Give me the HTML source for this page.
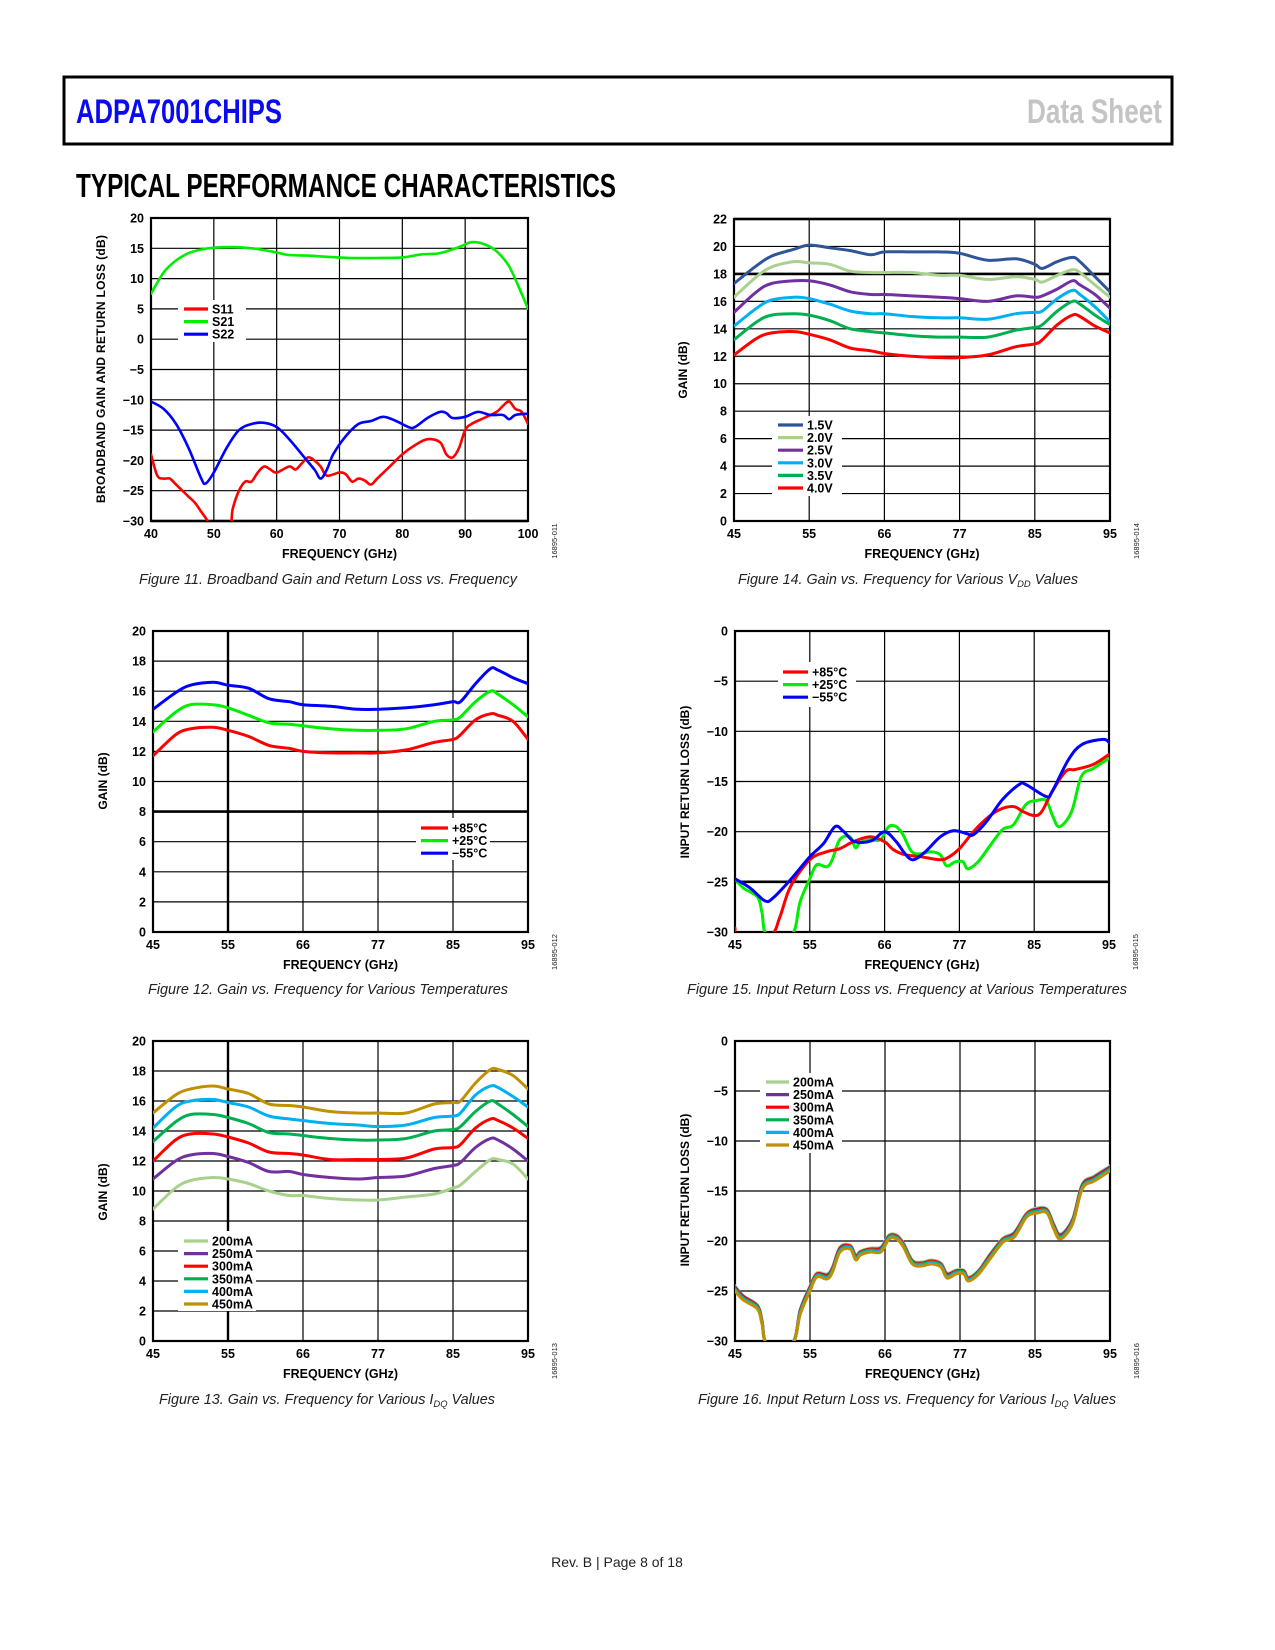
<!DOCTYPE html>
<html><head><meta charset="utf-8"><style>
html,body{margin:0;padding:0;background:#fff}
svg{display:block}
text{font-family:"Liberation Sans",Arial,sans-serif}
</style></head><body>
<svg id="page" xmlns="http://www.w3.org/2000/svg" width="1275" height="1650" viewBox="0 0 1275 1650">
<rect x="0" y="0" width="1275" height="1650" fill="#fff"/>
<rect x="64" y="77" width="1108" height="67" fill="none" stroke="#000" stroke-width="3"/>
<text x="76" y="123" font-size="34" font-weight="bold" fill="#0a0af0" textLength="206" lengthAdjust="spacingAndGlyphs">ADPA7001CHIPS</text>
<text x="1027" y="123" font-size="34" font-weight="bold" fill="#c4c4c4" textLength="135" lengthAdjust="spacingAndGlyphs">Data Sheet</text>
<text x="76" y="197" font-size="33" font-weight="bold" fill="#000" textLength="540" lengthAdjust="spacingAndGlyphs">TYPICAL PERFORMANCE CHARACTERISTICS</text>
<text x="617" y="1567" font-size="14" text-anchor="middle" fill="#222">Rev. B | Page 8 of 18</text>
</svg>
<script>
// ===== Figure 11 data =====
const f11X = [40,50,60,70,80,90,100];
const f11YTicks = [20,15,10,5,0,-5,-10,-15,-20,-25,-30];
const s21F = [40,42,44,46,48,50,53,56,58,60,62,65,68,72,76,80,83,86,89,91,93,95,97,99,100];
const s21V = [7.5,11,13,14.2,14.8,15.1,15.2,15,14.7,14.3,13.9,13.8,13.6,13.4,13.4,13.5,14,14.2,15.2,16,15.7,14.5,12,7.5,5];
const s22F = [40,42,44,46,48,48.7,50,52,54,56,58,60,62,64,66,67,68,69,71,73,75,77,79,81,82,84,86,87,88,90,92,94,96,97,98,100];
const s22V = [-10.3,-11.5,-14,-18,-23,-23.8,-22,-18,-15,-14,-13.8,-14.5,-16.5,-19,-21.5,-23,-21.5,-19,-16,-14,-13.5,-12.8,-13.5,-14.5,-14.5,-13,-12,-12.2,-13,-12.8,-12,-12.5,-12.5,-13.2,-12.5,-12.3];
const s11F = [40,41,42,43,44,45,46,47,48,49,49.4,52.4,53,54,55,56,57,58,59,60,62,63,64,65,66,67,68,70,71,72,73,74,75,76,78,80,82,84,86,87,88,89,90,91,93,95,96,97,98,99,100];
const s11V = [-19,-22.5,-23,-23,-24,-25,-26,-27,-28.5,-30,-31.5,-31.5,-28,-25,-23.5,-23.5,-22,-21,-21.5,-22,-21,-21.5,-20.5,-19.5,-20,-21,-22.5,-22,-22.3,-23.5,-23,-23.3,-24,-23,-21,-19,-17.5,-16.5,-17,-19,-19.5,-18,-15,-14,-13,-12,-11,-10.3,-11.5,-12,-14];

// ===== Figures 12-16 shared x axis =====
const bandTicks = [45,55,66,77,85,95];
const gF = [45,48,50,53,55,58,61,64,66,70,74,77,80,83,85,86,88,90,91,93,95];

// Figure 14 (VDD)
const f14YTicks = [22,20,18,16,14,12,10,8,6,4,2,0];
const v15 = [17.3,18.6,19.3,19.8,20.1,19.9,19.7,19.4,19.6,19.6,19.6,19.5,19.0,19.1,18.7,18.4,18.9,19.2,18.9,17.8,16.7];
const v20 = [16.3,17.8,18.5,18.9,18.8,18.7,18.2,18.1,18.1,18.1,17.9,17.9,17.6,17.8,17.6,17.4,17.9,18.3,18.1,17.2,16.3];
const v25 = [15.2,16.7,17.3,17.5,17.5,17.2,16.7,16.5,16.5,16.4,16.3,16.2,16.0,16.4,16.3,16.4,16.9,17.5,17.2,16.5,15.5];
const v30 = [14.2,15.5,16.1,16.3,16.2,15.8,15.3,15.1,15.1,14.9,14.8,14.8,14.7,15.1,15.2,15.3,16.2,16.8,16.5,15.6,14.5];
const v35 = [13.2,14.5,15.0,15.1,15.0,14.6,14.0,13.8,13.7,13.5,13.4,13.4,13.4,13.9,14.1,14.3,15.3,16.0,15.8,15.0,14.3];
const v40 = [12.1,13.3,13.7,13.8,13.6,13.2,12.6,12.4,12.2,12.0,11.9,11.9,12.1,12.7,12.9,13.2,14.3,15.0,14.9,14.2,13.7];

// Figure 12 (temperature gain)
const f12YTicks = [20,18,16,14,12,10,8,6,4,2,0];
const tM55 = [14.8,15.9,16.4,16.6,16.4,16.2,15.5,15.3,15.1,15.0,14.8,14.8,14.9,15.1,15.3,15.3,16.5,17.5,17.4,16.9,16.5];
const tP25 = [13.3,14.6,15.1,15.1,14.9,14.4,13.9,13.8,13.7,13.5,13.4,13.4,13.5,14.0,14.1,14.3,15.3,16.0,15.8,15.1,14.3];
const tP85 = [11.7,13.1,13.5,13.6,13.4,13.0,12.4,12.2,12.0,11.9,11.9,11.9,12.1,12.6,12.8,13.1,14.1,14.5,14.4,14.0,12.8];

// Figure 13 (IDQ gain)
const i450 = [15.2,16.4,16.8,17.0,16.8,16.5,15.8,15.7,15.6,15.3,15.2,15.2,15.2,15.8,15.9,16.0,17.2,18.1,18.1,17.7,16.8];
const i400 = [14.2,15.6,16.0,16.1,15.9,15.6,15.0,14.8,14.7,14.5,14.4,14.3,14.4,14.9,15.0,15.2,16.4,17.0,16.9,16.3,15.6];
const i350 = [13.3,14.6,15.1,15.1,14.9,14.5,13.9,13.8,13.7,13.5,13.4,13.4,13.5,14.0,14.1,14.3,15.3,16.0,15.8,15.1,14.3];
const i300 = [12.0,13.4,13.8,13.8,13.6,13.2,12.6,12.5,12.4,12.1,12.1,12.1,12.2,12.8,12.9,13.1,14.2,14.8,14.7,14.2,13.5];
const i250 = [10.8,12.0,12.4,12.5,12.3,11.9,11.3,11.3,11.1,10.9,10.8,10.9,11.0,11.5,11.7,11.9,12.9,13.5,13.4,12.8,12.0];
const i200 = [8.8,10.2,10.7,10.9,10.8,10.5,10.0,9.7,9.7,9.5,9.4,9.4,9.6,9.8,10.2,10.4,11.3,12.1,12.1,11.8,10.8];

// Figure 15 (input return loss vs temperature)
const rlYTicks = [0,-5,-10,-15,-20,-25,-30];
const r85F = [45,45.5,49.7,51,52.4,55,57.5,59.4,61.4,63.9,66,67.3,69,71.4,74.2,75.5,77,78.5,79.9,81.3,82.8,83.8,85,86,87.4,89.2,90.5,92.9,95];
const r85V = [-29.6,-30.4,-30.3,-28.5,-25.5,-22.8,-22,-21.7,-21,-20.5,-21,-21.8,-22.3,-22.5,-22.8,-22.5,-21.7,-20,-18.7,-17.8,-17.5,-18,-18.4,-18,-16,-14,-13.8,-13.3,-12.3];
const r25F = [45,46.1,48,48.6,49.3,52.6,53.7,55,56,57.5,58.3,59.4,60.9,61.7,62.4,63.9,65.4,66.6,67.7,68.7,70,71.4,72.8,74.2,75.1,76.4,77.4,77.9,79,80.2,81.6,82.8,84.1,85.3,86.6,87.5,88.4,90,91.3,92.9,95];
const r25V = [-24.7,-25.6,-26.5,-28,-30.3,-30.3,-27,-24.7,-23.3,-23.5,-22.8,-20.8,-20.5,-21.6,-21.1,-20.8,-20.8,-19.5,-19.5,-20.3,-22,-22.2,-22,-22.3,-23.4,-23,-23,-23.7,-23,-21.5,-19.8,-19.3,-17.3,-16.9,-16.9,-18.5,-19.5,-18,-14.5,-13.7,-12.7];
const rM55F = [45,47,49,50.1,52.4,55,57,58.7,60,61.6,64.1,66,67.7,69,70.2,72,74.2,76.1,77.8,78.5,79.9,81.6,83.4,84.1,86.6,87.4,89.6,91.4,94.2,95];
const rM55V = [-24.7,-25.6,-26.9,-26.6,-24.8,-22.5,-21.2,-19.5,-20,-21,-20.9,-20,-21,-22.2,-22.8,-22,-20.5,-19.9,-20.2,-20.3,-19,-16.8,-15.3,-15.3,-16.5,-16,-12.8,-11.3,-10.8,-11.1];

// Figure 16 (input return loss vs IDQ)
const qF = [45,46.1,48,48.6,49.3,52.6,53.7,55,56,57.5,58.3,59.4,60.9,61.7,62.4,63.9,65.4,66.6,67.7,68.7,70,71.4,72.8,74.2,75.1,76.4,77.4,77.9,79,80.2,81.6,82.8,84.1,85.3,86.6,87.5,88.4,90,91.3,92.9,95];
const q200 = [-24.5,-25.5,-26.4,-27.9,-30.3,-30.3,-26.8,-24.5,-23.2,-23.3,-22.6,-20.6,-20.4,-21.4,-21.0,-20.7,-20.6,-19.4,-19.4,-20.2,-21.9,-22.1,-21.9,-22.2,-23.2,-22.9,-22.9,-23.6,-22.9,-21.3,-19.7,-19.1,-17.2,-16.7,-16.8,-18.3,-19.3,-17.8,-14.3,-13.5,-12.5];
const q250 = [-24.6,-25.5,-26.5,-28.0,-30.3,-30.3,-26.9,-24.6,-23.3,-23.4,-22.7,-20.7,-20.5,-21.5,-21.1,-20.8,-20.7,-19.5,-19.5,-20.3,-22.0,-22.2,-22.0,-22.3,-23.3,-23.0,-23.0,-23.7,-23.0,-21.4,-19.8,-19.2,-17.3,-16.8,-16.9,-18.4,-19.4,-17.9,-14.4,-13.6,-12.6];
const q300 = [-24.7,-25.6,-26.5,-28.0,-30.3,-30.3,-27.0,-24.7,-23.3,-23.5,-22.8,-20.8,-20.5,-21.6,-21.1,-20.8,-20.8,-19.5,-19.5,-20.3,-22.0,-22.2,-22.0,-22.3,-23.4,-23.0,-23.0,-23.7,-23.0,-21.5,-19.8,-19.3,-17.3,-16.9,-16.9,-18.5,-19.5,-18.0,-14.5,-13.7,-12.7];
const q350 = [-24.8,-25.7,-26.6,-28.1,-30.3,-30.3,-27.1,-24.8,-23.4,-23.6,-22.9,-20.9,-20.6,-21.7,-21.2,-20.9,-20.9,-19.6,-19.6,-20.4,-22.1,-22.3,-22.1,-22.4,-23.5,-23.1,-23.1,-23.8,-23.1,-21.6,-19.9,-19.4,-17.4,-17.0,-17.0,-18.6,-19.6,-18.1,-14.6,-13.8,-12.8];
const q400 = [-24.9,-25.8,-26.7,-28.2,-30.3,-30.3,-27.2,-24.9,-23.5,-23.7,-23.0,-21.0,-20.7,-21.8,-21.3,-21.0,-21.0,-19.7,-19.7,-20.5,-22.2,-22.4,-22.2,-22.5,-23.6,-23.2,-23.2,-23.9,-23.2,-21.7,-20.0,-19.5,-17.5,-17.1,-17.1,-18.7,-19.7,-18.2,-14.7,-13.9,-12.9];
const q450 = [-25.0,-25.9,-26.8,-28.3,-30.3,-30.3,-27.3,-25.0,-23.6,-23.8,-23.1,-21.1,-20.8,-21.9,-21.4,-21.1,-21.1,-19.8,-19.8,-20.6,-22.3,-22.5,-22.3,-22.6,-23.7,-23.3,-23.3,-24.0,-23.3,-21.8,-20.1,-19.6,-17.6,-17.2,-17.2,-18.8,-19.8,-18.3,-14.8,-14.0,-13.0];

const NS = "http://www.w3.org/2000/svg";
const svg = document.getElementById('page');
function mk(tag, attrs, parent){
  const e = document.createElementNS(NS, tag);
  for (const k in attrs) e.setAttribute(k, attrs[k]);
  (parent || svg).appendChild(e);
  return e;
}
function fmt(v){ return v < 0 ? '\u2212' + Math.abs(v) : String(v); }
function smoothPath(pts){
  let d = 'M' + pts[0][0].toFixed(1) + ',' + pts[0][1].toFixed(1);
  for (let i = 0; i < pts.length - 1; i++) {
    const p0 = pts[Math.max(0, i-1)], p1 = pts[i], p2 = pts[i+1], p3 = pts[Math.min(pts.length-1, i+2)];
    const c1x = p1[0] + (p2[0]-p0[0])/6, c1y = p1[1] + (p2[1]-p0[1])/6;
    const c2x = p2[0] - (p3[0]-p1[0])/6, c2y = p2[1] - (p3[1]-p1[1])/6;
    d += 'C' + c1x.toFixed(1) + ',' + c1y.toFixed(1) + ' ' + c2x.toFixed(1) + ',' + c2y.toFixed(1) + ' ' + p2[0].toFixed(1) + ',' + p2[1].toFixed(1);
  }
  return d;
}

function drawChart(c){
  const g = mk('g', {});
  
  
  const W = c.R - c.L, H = c.B - c.T;
  const yMax = c.yTicks[0], yMin = c.yTicks[c.yTicks.length-1];
  const ys = v => c.T + (yMax - v) / (yMax - yMin) * H;
  const xt = c.xTicks;
  const n = xt.length - 1;
  const xs = f => {
    if (f <= xt[0]) return c.L + (f - xt[0]) / (xt[1]-xt[0]) * W / n;
    for (let i = 0; i < n; i++) {
      if (f <= xt[i+1]) return c.L + (i + (f - xt[i]) / (xt[i+1]-xt[i])) * W / n;
    }
    return c.R + (f - xt[n]) / (xt[n]-xt[n-1]) * W / n;
  };
  c.yTicks.forEach(v => {
    const y = ys(v);
    const thick = (c.thickY || []).indexOf(v) >= 0;
    const ln = mk('line', {x1:c.L, x2:c.R, y1:y, y2:y, stroke:'#000', 'stroke-width': thick ? 2.6 : 1.2}, g);
    
    
    const t = mk('text', {x:c.L-7, y:y+4.5, 'font-size':12.5, 'font-weight':'bold', 'text-anchor':'end'}, g);
    
    
    t.textContent = fmt(v);
  });
  xt.forEach((v, i) => {
    const x = c.L + i * W / n;
    const thick = (c.thickX || []).indexOf(v) >= 0;
    const ln = mk('line', {x1:x, x2:x, y1:c.T, y2:c.B, stroke:'#000', 'stroke-width': thick ? 2.4 : 1.2}, g);
    
    
    const t = mk('text', {x:x, y:c.B+17, 'font-size':12.5, 'font-weight':'bold', 'text-anchor':'middle'}, g);
    
    
    t.textContent = String(v);
  });
  const fr = mk('rect', {x:c.L, y:c.T, width:W, height:H, fill:'none', stroke:'#000', 'stroke-width':2.2}, g);
  
  
  const lg = c.legend;
  const lb = mk('rect', {x:lg.bx, y:lg.by, width:lg.bw, height:lg.bh, fill:'#fff'}, g);
  
  
  const cp = mk('clipPath', {id:'clip-' + c.id}, g);
  mk('rect', {x:c.L, y:c.T, width:W, height:H}, cp);
  const sg = mk('g', {'clip-path':'url(#clip-' + c.id + ')'}, g);
  c.series.forEach(s => {
    const pts = s.x.map((f, i) => [xs(f), ys(s.y[i])]);
    const p = mk('path', {d:smoothPath(pts), fill:'none', stroke:s.color, 'stroke-width':c.lw || 3, 'stroke-linejoin':'round', 'stroke-linecap':'round'}, sg);
    
    
  });
  c.series.slice().sort((a,b) => a.order - b.order).forEach((s, i) => {
    const y = lg.y + i * lg.step;
    const ln = mk('line', {x1:lg.x, x2:lg.x+lg.len, y1:y, y2:y, stroke:s.color, 'stroke-width':3.2}, g);
    
    
    const t = mk('text', {x:lg.x+lg.len+4, y:y+4.5, 'font-size':12.5, 'font-weight':'bold'}, g);
    
    
    t.textContent = s.label;
  });
  const xtl = mk('text', {x:(c.L+c.R)/2, y:c.B+37, 'font-size':12.5, 'font-weight':'bold', 'text-anchor':'middle'}, g);
  
  
  xtl.textContent = 'FREQUENCY (GHz)';
  const ytl = mk('text', {x:0, y:0, 'font-size':12, 'font-weight':'bold', 'text-anchor':'middle',
    transform:'translate(' + c.ytX + ',' + c.ytY + ') rotate(-90)'}, g);
  if (c.ytLen) { ytl.setAttribute('textLength', c.ytLen); ytl.setAttribute('lengthAdjust', 'spacing'); }
  
  
  ytl.textContent = c.ytitle;
  const code = mk('text', {x:0, y:0, 'font-size':7.5, 'text-anchor':'middle', fill:'#222',
    transform:'translate(' + (c.R+29) + ',' + (c.B+20) + ') rotate(-90)'}, g);
  
  
  code.textContent = c.code;
  const cap = mk('text', {x:c.capX - c.capLen/2, y:c.capY, 'font-size':14.5, 'font-style':'italic', fill:'#222',
    textLength:c.capLen, lengthAdjust:'spacingAndGlyphs'}, g);
  
  
  c.caption.forEach(part => {
    const ts = mk('tspan', part.sub ? {'font-size':9.5, dy:3} : (part.up ? {dy:-3} : {}), cap);
    ts.textContent = part.t;
  });
}

drawChart({id:'fig11-broadband-chart', L:151, R:528, T:218, B:521, xTicks:f11X, yTicks:f11YTicks, thickY:[-30], lw:2.6,
  series:[
    {key:'s11', x:s11F, y:s11V, color:'#ff0000', label:'S11', order:0},
    {key:'s21', x:s21F, y:s21V, color:'#00ee00', label:'S21', order:1},
    {key:'s22', x:s22F, y:s22V, color:'#0000ff', label:'S22', order:2}],
  legend:{bx:178, by:300, bw:68, bh:42, x:184, y:309, step:12.6, len:24},
  ytitle:'BROADBAND GAIN AND RETURN LOSS (dB)', ytX:105, ytY:369, ytLen:268, code:'16895-011',
  caption:[{t:'Figure 11. Broadband Gain and Return Loss vs. Frequency'}], capX:328, capY:584, capLen:378});

drawChart({id:'fig14-vdd-gain-chart', L:734, R:1110, T:219, B:521, xTicks:bandTicks, yTicks:f14YTicks, thickY:[22,18],
  series:[
    {key:'1v5', x:gF, y:v15, color:'#2f5597', label:'1.5V', order:0},
    {key:'2v0', x:gF, y:v20, color:'#a9d18e', label:'2.0V', order:1},
    {key:'2v5', x:gF, y:v25, color:'#7030a0', label:'2.5V', order:2},
    {key:'3v0', x:gF, y:v30, color:'#00b0f0', label:'3.0V', order:3},
    {key:'3v5', x:gF, y:v35, color:'#00b050', label:'3.5V', order:4},
    {key:'4v0', x:gF, y:v40, color:'#ff0000', label:'4.0V', order:5}],
  legend:{bx:772, by:416, bw:70, bh:80, x:778, y:425, step:12.6, len:25},
  ytitle:'GAIN (dB)', ytX:687, ytY:370, code:'16895-014',
  caption:[{t:'Figure 14. Gain vs. Frequency for Various V'},{t:'DD',sub:true},{t:' Values',up:true}], capX:908, capY:584, capLen:340});

drawChart({id:'fig12-temperature-gain-chart', L:153, R:528, T:631, B:932, xTicks:bandTicks, yTicks:f12YTicks, thickY:[8], thickX:[55],
  series:[
    {key:'plus85', x:gF, y:tP85, color:'#ff0000', label:'+85°C', order:0},
    {key:'plus25', x:gF, y:tP25, color:'#00ee00', label:'+25°C', order:1},
    {key:'minus55', x:gF, y:tM55, color:'#0000ff', label:'\u221255°C', order:2}],
  legend:{bx:416, by:818, bw:74, bh:42, x:421, y:828, step:12.6, len:27},
  ytitle:'GAIN (dB)', ytX:107, ytY:781, code:'16895-012',
  caption:[{t:'Figure 12. Gain vs. Frequency for Various Temperatures'}], capX:328, capY:994, capLen:360});

drawChart({id:'fig15-temperature-return-loss-chart', L:735, R:1109, T:631, B:932, xTicks:bandTicks, yTicks:rlYTicks, thickY:[-25],
  series:[
    {key:'plus25', x:r25F, y:r25V, color:'#00ee00', label:'+25°C', order:1},
    {key:'plus85', x:r85F, y:r85V, color:'#ff0000', label:'+85°C', order:0},
    {key:'minus55', x:rM55F, y:rM55V, color:'#0000ff', label:'\u221255°C', order:2}],
  legend:{bx:778, by:662, bw:78, bh:45, x:783, y:672, step:12.6, len:25},
  ytitle:'INPUT RETURN LOSS (dB)', ytX:689, ytY:782, code:'16895-015',
  caption:[{t:'Figure 15. Input Return Loss vs. Frequency at Various Temperatures'}], capX:907, capY:994, capLen:440});

drawChart({id:'fig13-idq-gain-chart', L:153, R:528, T:1041, B:1341, xTicks:bandTicks, yTicks:f12YTicks, thickX:[55],
  series:[
    {key:'200ma', x:gF, y:i200, color:'#a9d18e', label:'200mA', order:0},
    {key:'250ma', x:gF, y:i250, color:'#7030a0', label:'250mA', order:1},
    {key:'300ma', x:gF, y:i300, color:'#ff0000', label:'300mA', order:2},
    {key:'350ma', x:gF, y:i350, color:'#00b050', label:'350mA', order:3},
    {key:'400ma', x:gF, y:i400, color:'#00b0f0', label:'400mA', order:4},
    {key:'450ma', x:gF, y:i450, color:'#bf9000', label:'450mA', order:5}],
  legend:{bx:178, by:1231, bw:78, bh:80, x:184, y:1241, step:12.6, len:24},
  ytitle:'GAIN (dB)', ytX:107, ytY:1192, code:'16895-013',
  caption:[{t:'Figure 13. Gain vs. Frequency for Various I'},{t:'DQ',sub:true},{t:' Values',up:true}], capX:327, capY:1404, capLen:336});

drawChart({id:'fig16-idq-return-loss-chart', L:735, R:1110, T:1041, B:1341, xTicks:bandTicks, yTicks:rlYTicks,
  series:[
    {key:'200ma', x:qF, y:q200, color:'#a9d18e', label:'200mA', order:0},
    {key:'250ma', x:qF, y:q250, color:'#7030a0', label:'250mA', order:1},
    {key:'300ma', x:qF, y:q300, color:'#ff0000', label:'300mA', order:2},
    {key:'350ma', x:qF, y:q350, color:'#00b050', label:'350mA', order:3},
    {key:'400ma', x:qF, y:q400, color:'#00b0f0', label:'400mA', order:4},
    {key:'450ma', x:qF, y:q450, color:'#bf9000', label:'450mA', order:5}],
  legend:{bx:760, by:1073, bw:82, bh:80, x:766, y:1082, step:12.6, len:23},
  ytitle:'INPUT RETURN LOSS (dB)', ytX:689, ytY:1190, code:'16895-016',
  caption:[{t:'Figure 16. Input Return Loss vs. Frequency for Various I'},{t:'DQ',sub:true},{t:' Values',up:true}], capX:907, capY:1404, capLen:418});
</script>
</body></html>
